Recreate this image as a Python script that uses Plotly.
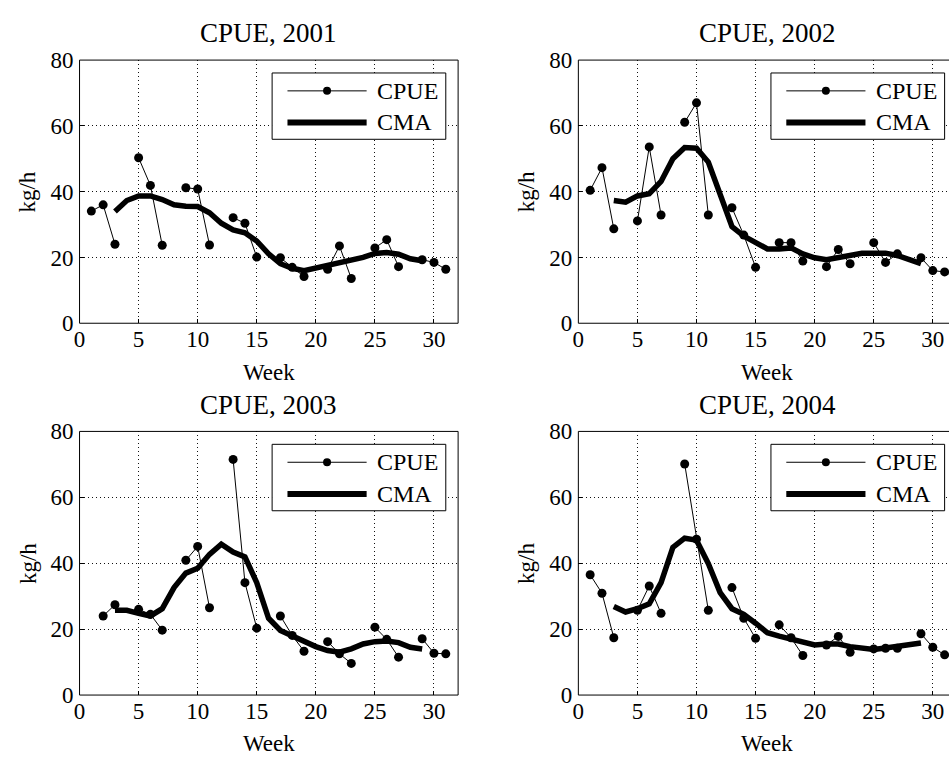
import plotly.graph_objects as go

# Weekly catch per unit effort (kg/h); weeks 4, 8, ... have no sampling
weeks = list(range(1, 32))
cma_weeks = list(range(3, 30))
years = [2001, 2002, 2003, 2004]

cpue_2001 = [34.1, 36.0, 24.0, None, 50.3, 41.9, 23.7, None, 41.2, 40.8, 23.8, None,
             32.1, 30.4, 20.1, None, 19.9, 17.0, 14.2, None, 16.4, 23.5, 13.6, None,
             22.9, 25.4, 17.2, None, 19.3, 18.5, 16.4]
cpue_2002 = [40.4, 47.3, 28.7, None, 31.1, 53.6, 32.9, None, 61.1, 67.0, 32.9, None,
             35.1, 26.8, 17.0, None, 24.5, 24.5, 18.9, None, 17.2, 22.4, 18.1, None,
             24.5, 18.5, 21.1, None, 19.9, 16.0, 15.6]
cpue_2003 = [None, 24.0, 27.4, None, 26.0, 24.5, 19.7, None, 40.9, 45.1, 26.5, None,
             71.5, 34.1, 20.3, None, 24.0, 18.1, 13.3, None, 16.2, 12.5, 9.6, None,
             20.6, 16.9, 11.5, None, 17.1, 12.7, 12.5]
cpue_2004 = [36.5, 30.9, 17.4, None, 25.7, 33.1, 24.8, None, 70.1, 47.3, 25.7, None,
             32.6, 23.3, 17.2, None, 21.3, 17.4, 12.0, None, 15.2, 17.8, 13.0, None,
             14.0, 14.2, 14.2, None, 18.6, 14.5, 12.2]

# Centred moving average, weeks 3-29
cma_2001 = [34.0, 37.3, 38.7, 38.7, 37.6, 36.0, 35.6, 35.5, 33.6, 30.4, 28.4, 27.5, 25.0,
            21.1, 18.1, 16.7, 16.0, 16.8, 17.4, 18.0, 19.0, 20.0, 21.2, 21.5, 21.0, 19.6, 19.0]
cma_2002 = [37.3, 36.8, 38.7, 39.4, 43.1, 50.0, 53.4, 53.2, 49.0, 38.7, 29.4, 26.5, 24.5,
            22.6, 22.6, 22.9, 21.1, 19.9, 19.3, 19.9, 20.6, 21.3, 21.3, 21.3, 20.6, 19.3, 18.1]
cma_2003 = [25.7, 25.7, 24.8, 24.0, 26.2, 32.6, 37.0, 38.5, 42.7, 45.8, 43.4, 41.9, 34.1,
            23.3, 19.6, 17.9, 16.4, 14.7, 13.5, 13.0, 14.0, 15.5, 16.2, 16.4, 15.9, 14.5, 14.0]
cma_2004 = [26.9, 25.2, 26.2, 27.7, 34.1, 44.8, 47.6, 47.0, 39.9, 31.1, 26.2, 24.5, 21.8,
            18.9, 17.9, 16.9, 15.9, 15.2, 15.5, 15.5, 14.7, 14.3, 13.8, 14.3, 14.7, 15.5, 15.8]

cpue_series = [cpue_2001, cpue_2002, cpue_2003, cpue_2004]
cma_series = [cma_2001, cma_2002, cma_2003, cma_2004]

x_ticks = [0, 5, 10, 15, 20, 25, 30]
y_ticks = [0, 20, 40, 60, 80]

W, H = 949, 769
SERIF = "Liberation Serif"
PX_PER_WEEK = 11.89

# Subplot frames in pixels: (left, top, right, bottom); the right column runs past the page edge
frames = [(74, 49.7, 455, 321.7), (576, 49.7, 956.4, 321.7),
          (74, 433.5, 455, 706), (576, 433.5, 956.4, 706)]

fig = go.Figure()
layout = dict(width=W, height=H, margin=dict(l=0, r=0, t=0, b=0),
              paper_bgcolor="white", plot_bgcolor="white", showlegend=False,
              font=dict(family=SERIF, color="black"))
shapes, annotations = [], []

for i, year in enumerate(years):
    n = "" if i == 0 else str(i + 1)
    left, top, right, bottom = frames[i]
    vis_right = min(right, W)
    xdom = [left / W, vis_right / W]
    ydom = [1 - bottom / H, 1 - top / H]
    xmax = (vis_right - left) / PX_PER_WEEK

    fig.add_trace(go.Scatter(x=weeks, y=cpue_series[i], mode="lines+markers",
                             line=dict(color="black", width=1),
                             marker=dict(color="black", size=9),
                             connectgaps=False, xaxis="x" + n, yaxis="y" + n,
                             name="CPUE"))
    fig.add_trace(go.Scatter(x=cma_weeks, y=cma_series[i], mode="lines",
                             line=dict(color="black", width=5.5),
                             xaxis="x" + n, yaxis="y" + n, name="CMA"))

    grid = dict(showgrid=True, gridcolor="#111", gridwidth=1, griddash="1px,3px",
                zeroline=False, showline=False, ticks="inside", ticklen=4,
                tickcolor="black", tickfont=dict(family=SERIF, size=23, color="black"))
    layout["xaxis" + n] = dict(domain=xdom, range=[0, xmax], tickvals=x_ticks,
                               anchor="y" + n, ticklabelstandoff=0, **grid)
    layout["yaxis" + n] = dict(domain=ydom, range=[0, 80], tickvals=y_ticks,
                               anchor="x" + n, ticklabelstandoff=5, **grid)

    # axes box
    shapes.append(dict(type="rect", xref="paper", yref="paper",
                       x0=left / W, x1=right / W, y0=ydom[0], y1=ydom[1],
                       line=dict(color="black", width=1), layer="above"))

    # legend box with its two samples
    xr, yr = "x" + n, "y" + n + " domain"
    shapes.append(dict(type="rect", xref=xr, yref=yr, x0=16.3, x1=31.0, y0=0.699, y1=0.951,
                       line=dict(color="black", width=1), fillcolor="white", layer="above"))
    shapes.append(dict(type="line", xref=xr, yref=yr, x0=17.6, x1=24.3, y0=0.883, y1=0.883,
                       line=dict(color="black", width=1), layer="above"))
    shapes.append(dict(type="circle", xref=xr, yref=yr, xsizemode="pixel", ysizemode="pixel",
                       xanchor=20.95, yanchor=0.883, x0=-4, x1=4, y0=-4, y1=4,
                       fillcolor="black", line=dict(color="black", width=0), layer="above"))
    shapes.append(dict(type="line", xref=xr, yref=yr, x0=17.6, x1=24.3, y0=0.763, y1=0.763,
                       line=dict(color="black", width=6), layer="above"))
    for label, yy in (("CPUE", 0.883), ("CMA", 0.763)):
        annotations.append(dict(text=label, xref=xr, yref=yr, x=25.0, y=yy,
                                xanchor="left", yanchor="middle", showarrow=False,
                                font=dict(family=SERIF, size=24, color="black")))

    # title and axis labels
    cx = (left + right) / 2 / W
    annotations.append(dict(text=f"CPUE, {year}", xref="paper", yref="paper",
                            x=cx, y=1 - (top - 27.5) / H, xanchor="center", yanchor="middle",
                            showarrow=False, font=dict(family=SERIF, size=27, color="black")))
    annotations.append(dict(text="Week", xref="paper", yref="paper",
                            x=cx, y=1 - (bottom + 50.5) / H, xanchor="center", yanchor="middle",
                            showarrow=False, font=dict(family=SERIF, size=23, color="black")))
    annotations.append(dict(text="kg/h", xref="paper", yref="paper",
                            x=(left - 52) / W, y=1 - (top + bottom) / 2 / H,
                            xanchor="center", yanchor="middle", textangle=-90,
                            showarrow=False, font=dict(family=SERIF, size=23, color="black")))

layout["shapes"] = shapes
layout["annotations"] = annotations
fig.update_layout(**layout)
fig.write_html("out.html")
